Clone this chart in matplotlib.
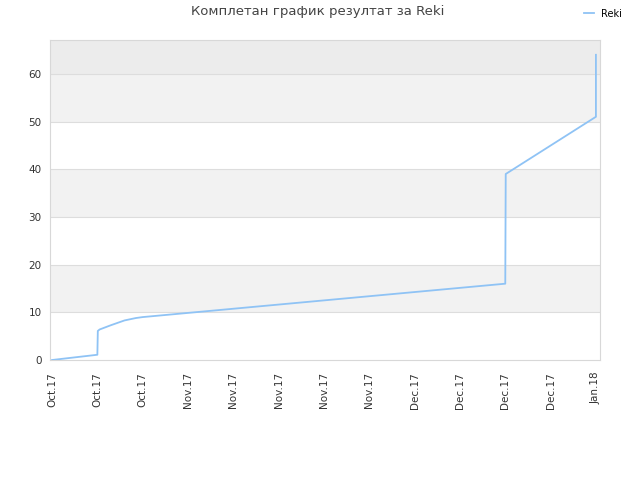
import numpy as np
import matplotlib.pyplot as plt

title = "Комплетан график резултат за Reki"
series_name = "Reki"
tick_labels = ["Oct.17", "Oct.17", "Oct.17", "Nov.17", "Nov.17", "Nov.17", "Nov.17",
               "Nov.17", "Dec.17", "Dec.17", "Dec.17", "Dec.17", "Jan.18"]
# x in tick units (0 = first label, 12 = last label)
x_vals = [0, 1.0, 1.01, 1.05, 1.3, 1.6, 1.85, 2.0, 10.0, 10.01, 12.0, 12.0]
y_vals = [0, 1.1, 6.1, 6.4, 7.3, 8.3, 8.8, 9.0, 16.0, 39.0, 51.0, 64.0]

fig = plt.figure(figsize=(6.4, 4.8), dpi=100)
ax = fig.add_axes([50 / 640, 120 / 480, 550 / 640, 320 / 480])

ymax = 67.1
# alternating background bands
for lo in [10, 30, 50]:
    ax.axhspan(lo, lo + 10, color="#f2f2f2", zorder=0, lw=0)
ax.axhspan(60, ymax, color="#ececec", zorder=0, lw=0)
for yv in range(10, 70, 10):
    ax.axhline(yv, color="#dddddd", lw=0.8, zorder=1)

ax.plot(x_vals, y_vals, color="#8fc3f5", lw=1.3, label=series_name, zorder=3)

ax.set_xlim(-0.045, 12.09)
ax.set_ylim(0, ymax)
ax.set_xticks(range(len(tick_labels)))
ax.set_xticklabels(tick_labels, rotation=90, fontsize=7.5, color="#333333")
ax.set_yticks(range(0, 70, 10))
ax.tick_params(axis="y", labelsize=7.5, colors="#333333", length=0, pad=6)
ax.tick_params(axis="x", length=0, pad=8.5)
for s in ax.spines.values():
    s.set_color("#d8d8d8")
    s.set_linewidth(0.8)

fig.text(318 / 640, 1 - 12 / 480, title, ha="center", va="center", fontsize=9.5,
         color="#444444")
fig.legend(loc="upper right", bbox_to_anchor=(0.986, 1.0), frameon=False, fontsize=7,
           handlelength=1.0, handletextpad=0.8)

fig.savefig("out.png", dpi=100)
